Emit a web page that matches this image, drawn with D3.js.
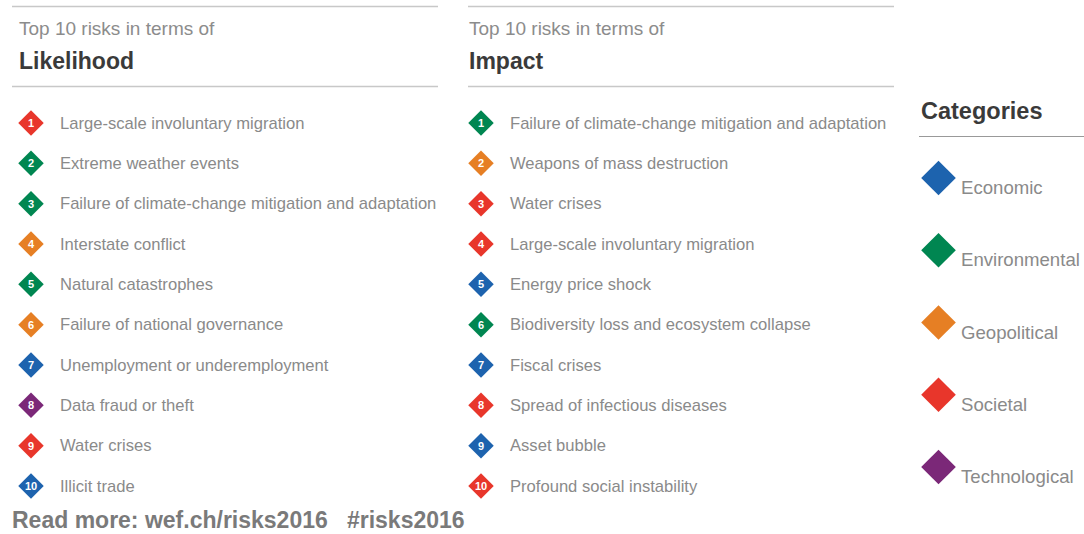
<!DOCTYPE html>
<html lang="en">
<head>
  <meta charset="UTF-8">
  <title>Global Risks 2016 - Top 10</title>
<style>
    body { margin: 0; background: #fff; }
    svg { display: block; font-family: "Liberation Sans", Arial, sans-serif; }
    .rule { stroke: #c8c8c8; stroke-width: 1.5; }
    .sub { fill: #8c8c8c; font-size: 19px; }
    .head { fill: #3a3a3a; font-size: 23px; font-weight: bold; }
    .item { fill: #8a8a8a; font-size: 16.6px; }
    .rank { fill: #fff; font-size: 11px; font-weight: bold; }
    .cat { fill: #8a8a8a; font-size: 18.6px; }
    .foot { fill: #7a7a7a; font-size: 23px; font-weight: bold; }
  </style>
</head>
<body>
<svg id="chart" width="1084" height="534"></svg>
<script src="https://d3js.org/d3.v7.min.js"></script>
<script>
    // data
    const categories = ['Economic', 'Environmental', 'Geopolitical', 'Societal', 'Technological'];
    const catColors = ['#1d63ae', '#008651', '#e67f24', '#e8362b', '#7b2878'];

    const ranks = [1, 2, 3, 4, 5, 6, 7, 8, 9, 10];

    const likelihoodRisks = [
      'Large-scale involuntary migration',
      'Extreme weather events',
      'Failure of climate-change mitigation and adaptation',
      'Interstate conflict',
      'Natural catastrophes',
      'Failure of national governance',
      'Unemployment or underemployment',
      'Data fraud or theft',
      'Water crises',
      'Illicit trade'
    ];
    const likelihoodCats = ['Societal', 'Environmental', 'Environmental', 'Geopolitical', 'Environmental',
      'Geopolitical', 'Economic', 'Technological', 'Societal', 'Economic'];

    const impactRisks = [
      'Failure of climate-change mitigation and adaptation',
      'Weapons of mass destruction',
      'Water crises',
      'Large-scale involuntary migration',
      'Energy price shock',
      'Biodiversity loss and ecosystem collapse',
      'Fiscal crises',
      'Spread of infectious diseases',
      'Asset bubble',
      'Profound social instability'
    ];
    const impactCats = ['Environmental', 'Geopolitical', 'Societal', 'Societal', 'Economic',
      'Environmental', 'Economic', 'Societal', 'Economic', 'Societal'];

    const svg = d3.select('#chart');

    const color = d3.scaleOrdinal().domain(categories).range(catColors);
    const rowY = d3.scalePoint().domain(ranks).range([123, 486]);
    const catY = d3.scalePoint().domain(categories).range([178, 467]);

    const diamond = d3.symbol().type(d3.symbolSquare);

    // one panel of ranked risks
    function panel(x0, titleX, textX, title, risks, cats) {
      const g = svg.append('g').attr('transform', `translate(${x0},0)`);
      g.append('line').attr('class', 'rule').attr('x1', 0).attr('x2', 426).attr('y1', 6.5).attr('y2', 6.5);
      g.append('line').attr('class', 'rule').attr('x1', 0).attr('x2', 426).attr('y1', 86.5).attr('y2', 86.5);
      g.append('text').attr('class', 'sub').attr('x', titleX).attr('y', 35).text('Top 10 risks in terms of');
      g.append('text').attr('class', 'head').attr('x', titleX).attr('y', 69).text(title);

      const rows = g.selectAll('.row')
        .data(ranks)
        .enter().append('g')
        .attr('class', 'row')
        .attr('transform', d => `translate(0,${rowY(d)})`);

      rows.append('path')
        .attr('d', diamond.size(18 * 18))
        .attr('transform', `translate(${textX - 29},0) rotate(45)`)
        .attr('fill', (d, i) => color(cats[i]));

      rows.append('text')
        .attr('class', 'rank')
        .attr('x', textX - 29)
        .attr('y', 0)
        .attr('dy', '0.36em')
        .attr('text-anchor', 'middle')
        .text(d => d);

      rows.append('text')
        .attr('class', 'item')
        .attr('x', textX)
        .attr('y', 0)
        .attr('dy', '0.35em')
        .text((d, i) => risks[i]);
    }

    panel(12, 7, 48, 'Likelihood', likelihoodRisks, likelihoodCats);
    panel(468, 1, 42, 'Impact', impactRisks, impactCats);

    // categories legend
    const leg = svg.append('g');
    leg.append('text').attr('class', 'head').attr('x', 921).attr('y', 119).style('font-size', '23.5px').text('Categories');
    leg.append('line').attr('class', 'rule').attr('x1', 919).attr('x2', 1084).attr('y1', 136.5).attr('y2', 136.5)
      .style('stroke', '#999').style('stroke-width', 1);

    const items = leg.selectAll('.legitem')
      .data(categories)
      .enter().append('g')
      .attr('class', 'legitem')
      .attr('transform', d => `translate(0,${catY(d)})`);

    items.append('path')
      .attr('d', diamond.size(24.5 * 24.5))
      .attr('transform', 'translate(938.5,0) rotate(45)')
      .attr('fill', d => color(d));

    items.append('text')
      .attr('class', 'cat')
      .attr('x', 961)
      .attr('y', 16)
      .text(d => d);

    svg.append('text')
      .attr('class', 'foot')
      .attr('x', 12)
      .attr('y', 528)
      .style('white-space', 'pre')
      .text('Read more: wef.ch/risks2016   #risks2016');
</script>
</body>
</html>
